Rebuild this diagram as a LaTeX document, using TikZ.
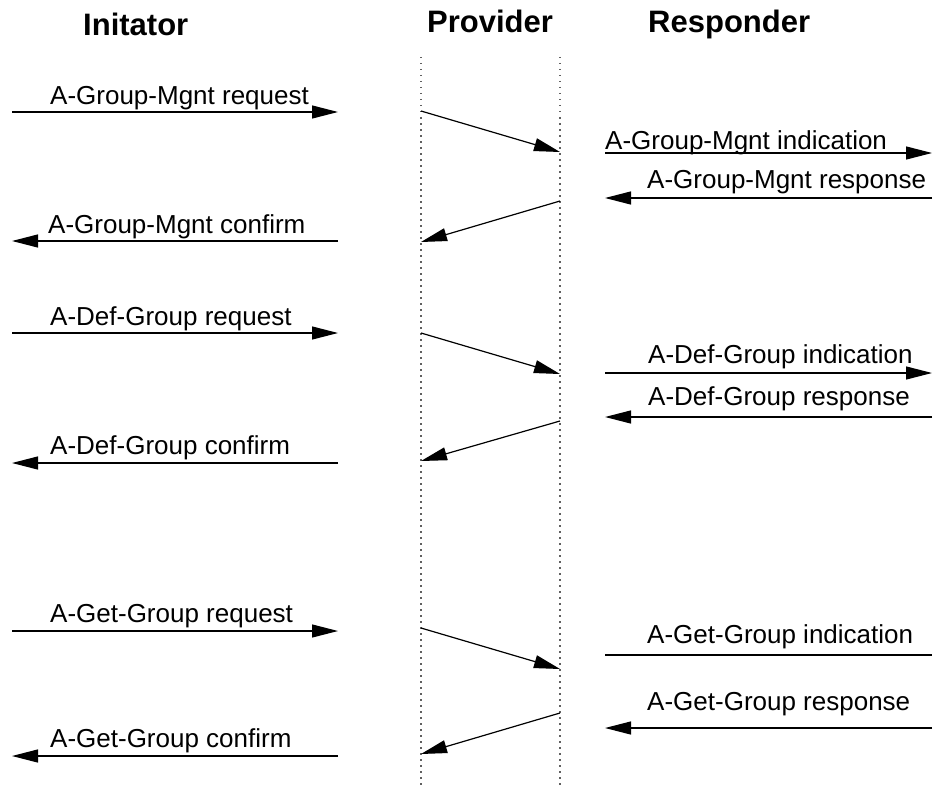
\documentclass[tikz,border=0pt]{standalone}
\usepackage{fontspec}
\setmainfont{Liberation Sans}
\usetikzlibrary{arrows.meta}

\begin{document}
\begin{tikzpicture}[x=1pt,y=-1pt,
  msg/.style={line width=1.2pt, -{Triangle[length=26pt,width=13pt]}},
  plain/.style={line width=1.2pt},
  lifeline/.style={line width=1.5pt, gray!75!black, dash pattern=on 1.5pt off 4.5pt},
  lbl/.style={font=\fontsize{26}{30}\selectfont, inner sep=0pt, anchor=base west},
  head/.style={font=\bfseries\fontsize{31}{36}\selectfont, inner sep=0pt, anchor=base west}]
\useasboundingbox (0,0) rectangle (936,789);

% column headings
\node[head] (hI) at (83,36) {Initator};
\node[head] (hP) at (427,33) {Provider};
\node[head] (hR) at (648,33) {Responder};

% provider lifelines
\coordinate (pLt) at (421,57);  \coordinate (pLb) at (421,789);
\coordinate (pRt) at (560,57);  \coordinate (pRb) at (560,789);
\draw[lifeline] (pLt) -- (pLb);
\draw[lifeline] (pRt) -- (pRb);

% ---------- A-Group-Mgnt ----------
\coordinate (a1) at (12,112);   \coordinate (a2) at (338,112);
\coordinate (a3) at (421,111);  \coordinate (a4) at (560,152);
\coordinate (a5) at (605,153);  \coordinate (a6) at (932,153);
\coordinate (a7) at (932,198);  \coordinate (a8) at (605,198);
\coordinate (a9) at (560,201);  \coordinate (a10) at (421,242);
\coordinate (a11) at (338,241); \coordinate (a12) at (12,241);
\draw[msg] (a1) -- (a2);
\draw[msg] (a3) -- (a4);
\draw[msg] (a5) -- (a6);
\draw[msg] (a7) -- (a8);
\draw[msg] (a9) -- (a10);
\draw[msg] (a11) -- (a12);
\node[lbl] (la1) at (50,105)  {A-Group-Mgnt request};
\node[lbl] (la2) at (605,149) {A-Group-Mgnt indication};
\node[lbl] (la3) at (647,188) {A-Group-Mgnt response};
\node[lbl] (la4) at (48,233)  {A-Group-Mgnt confirm};

% ---------- A-Def-Group ----------
\coordinate (b1) at (12,333);   \coordinate (b2) at (338,333);
\coordinate (b3) at (421,333);  \coordinate (b4) at (560,374);
\coordinate (b5) at (605,373);  \coordinate (b6) at (932,373);
\coordinate (b7) at (932,417);  \coordinate (b8) at (605,417);
\coordinate (b9) at (560,421);  \coordinate (b10) at (421,461);
\coordinate (b11) at (338,463); \coordinate (b12) at (12,463);
\draw[msg] (b1) -- (b2);
\draw[msg] (b3) -- (b4);
\draw[msg] (b5) -- (b6);
\draw[msg] (b7) -- (b8);
\draw[msg] (b9) -- (b10);
\draw[msg] (b11) -- (b12);
\node[lbl] (lb1) at (50,325)  {A-Def-Group request};
\node[lbl] (lb2) at (648,363) {A-Def-Group indication};
\node[lbl] (lb3) at (648,405) {A-Def-Group response};
\node[lbl] (lb4) at (50,454)  {A-Def-Group confirm};

% ---------- A-Get-Group ----------
\coordinate (c1) at (12,631);   \coordinate (c2) at (338,631);
\coordinate (c3) at (421,628);  \coordinate (c4) at (560,669);
\coordinate (c5) at (605,655);  \coordinate (c6) at (932,655);
\coordinate (c7) at (932,728);  \coordinate (c8) at (605,728);
\coordinate (c9) at (560,713);  \coordinate (c10) at (421,754);
\coordinate (c11) at (338,756); \coordinate (c12) at (12,756);
\draw[msg] (c1) -- (c2);
\draw[msg] (c3) -- (c4);
\draw[plain] (c5) -- (c6);
\draw[msg] (c7) -- (c8);
\draw[msg] (c9) -- (c10);
\draw[msg] (c11) -- (c12);
\node[lbl] (lc1) at (50,622)  {A-Get-Group request};
\node[lbl] (lc2) at (647,643) {A-Get-Group indication};
\node[lbl] (lc3) at (647,710) {A-Get-Group response};
\node[lbl] (lc4) at (50,747)  {A-Get-Group confirm};
\end{tikzpicture}
\end{document}
